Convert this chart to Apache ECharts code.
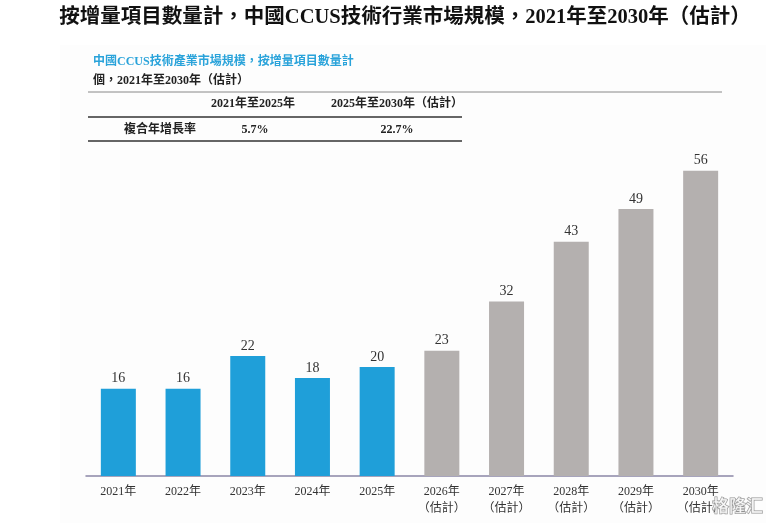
<!DOCTYPE html>
<html><head><meta charset="utf-8">
<script src="https://cdn.jsdelivr.net/npm/echarts@6/dist/echarts.min.js"></script>
<style>html,body{margin:0;padding:0;background:#fff}#c{width:766px;height:523px}</style>
</head><body><div id="c"></div>
<script>
var categories = ['2021年','2022年','2023年','2024年','2025年','2026年\n（估計）','2027年\n（估計）','2028年\n（估計）','2029年\n（估計）','2030年\n（估計）'];
var values = [16, 16, 22, 18, 20, 23, 32, 43, 49, 56];
var forecastStart = 5;
var titleText = '按增量項目數量計，中國CCUS技術行業市場規模，2021年至2030年（估計）';
var subTitle = '中國CCUS技術產業市場規模，按增量項目數量計';
var unitText = '個，2021年至2030年（估計）';
var cagrPeriods = ['2021年至2025年', '2025年至2030年（估計）'];
var cagrLabel = '複合年增長率';
var cagrValues = ['5.7%', '22.7%'];

var SERIF = '"Liberation Serif","Noto Sans CJK TC",serif';
var chart = echarts.init(document.getElementById('c'));
chart.setOption({
  animation: false,
  backgroundColor: '#ffffff',
  grid: {left: 86, right: 33, top: 149, bottom: 47},
  xAxis: {
    type: 'category', data: categories,
    axisLine: {show: true, lineStyle: {color: '#8a86a6', width: 1.5}},
    axisTick: {show: false},
    axisLabel: {color: '#333', fontFamily: SERIF, fontSize: 12, lineHeight: 17, margin: 7, interval: 0}
  },
  yAxis: {type: 'value', min: 0, max: 60, show: false, splitLine: {show: false}},
  graphic: [
    {type: 'rect', z: -10, shape: {x: 60, y: 45, width: 706, height: 478}, style: {fill: '#fdfdfd'}},
    {type: 'text', x: 405, y: 18, style: {text: titleText, font: 'bold 20.5px ' + SERIF, fill: '#111', align: 'center', verticalAlign: 'middle'}},
    {type: 'text', left: 93, top: 56, style: {text: subTitle, font: 'bold 12px ' + SERIF, fill: '#2aa3da'}},
    {type: 'text', left: 93, top: 75, style: {text: unitText, font: 'bold 12px ' + SERIF, fill: '#222'}},
    {type: 'line', shape: {x1: 88, y1: 92, x2: 722, y2: 92}, style: {stroke: '#888', lineWidth: 1}},
    {type: 'line', shape: {x1: 88, y1: 117, x2: 462, y2: 117}, style: {stroke: '#333', lineWidth: 1.5}},
    {type: 'line', shape: {x1: 88, y1: 141, x2: 462, y2: 141}, style: {stroke: '#333', lineWidth: 1.5}},
    {type: 'text', x: 253, y: 104, style: {text: cagrPeriods[0], font: 'bold 12px ' + SERIF, fill: '#222', align: 'center', verticalAlign: 'middle'}},
    {type: 'text', x: 397, y: 104, style: {text: cagrPeriods[1], font: 'bold 12px ' + SERIF, fill: '#222', align: 'center', verticalAlign: 'middle'}},
    {type: 'text', x: 160, y: 130, style: {text: cagrLabel, font: 'bold 12px ' + SERIF, fill: '#222', align: 'center', verticalAlign: 'middle'}},
    {type: 'text', x: 255, y: 130, style: {text: cagrValues[0], font: 'bold 12px ' + SERIF, fill: '#222', align: 'center', verticalAlign: 'middle'}},
    {type: 'text', x: 397, y: 130, style: {text: cagrValues[1], font: 'bold 12px ' + SERIF, fill: '#222', align: 'center', verticalAlign: 'middle'}},
    {type: 'text', x: 712, y: 506, z: 100, style: {text: '格隆汇', font: 'bold 17px "Noto Sans CJK SC"', fill: 'rgba(255,255,255,0.6)', stroke: 'rgba(110,110,110,0.75)', lineWidth: 1, align: 'left', verticalAlign: 'middle'}}
  ],
  series: [{
    type: 'bar', data: values, barWidth: 35,
    itemStyle: {color: function (p) { return p.dataIndex >= forecastStart ? '#b4b0af' : '#1f9fd9'; }},
    label: {show: true, position: 'top', distance: 3, color: '#333', fontFamily: SERIF, fontSize: 14}
  }]
});
</script></body></html>
